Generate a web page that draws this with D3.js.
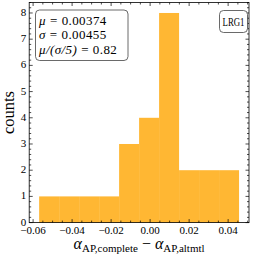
<!DOCTYPE html>
<html>
<head>
<meta charset="utf-8">
<script src="https://cdn.jsdelivr.net/npm/d3@7"></script>
<style>
  body { margin: 0; background: #fff; }
  text { font-family: "Liberation Serif", "DejaVu Serif", serif; fill: #000; }
</style>
</head>
<body>
<svg id="chart" width="253" height="256"></svg>
<script>
// histogram data
const binEdges = [-0.0569, -0.04665, -0.0364, -0.02615, -0.0159, -0.00565, 0.0046, 0.01485, 0.0251, 0.03535, 0.0456];
const binCounts = [1, 1, 1, 1, 3, 4, 8, 2, 2, 2];
const xTicks = [-0.06, -0.04, -0.02, 0.00, 0.02, 0.04];
const yTicks = [0, 1, 2, 3, 4, 5, 6, 7, 8];
const statLines = [["μ", "0.00374"], ["σ", "0.00455"], ["μ/(σ/5)", "0.82"]];
const tagLabel = "LRG1";

const svg = d3.select("#chart");
// plot box (px)
const pLeft = 29.2, pRight = 249, pTop = 2.5, pBottom = 222.6;

const x = d3.scaleLinear().domain([-0.0620, 0.0507]).range([pLeft, pRight]);
const y = d3.scaleLinear().domain([0, 8.4]).range([pBottom, pTop]);

// bars
const bins = binCounts.map((c, i) => ({x0: binEdges[i], x1: binEdges[i + 1], c: c}));
svg.append("g").selectAll("rect")
  .data(bins)
  .enter()
  .append("rect")
  .attr("x", d => x(d.x0))
  .attr("y", d => y(d.c))
  .attr("width", d => x(d.x1) - x(d.x0))
  .attr("height", d => y(0) - y(d.c))
  .attr("fill", "#ffa500")
  .attr("fill-opacity", 0.8);

// ticks, inward on all four sides
function tickLines(vals, len, axisName) {
  const g = svg.append("g").attr("stroke", "#000").attr("stroke-width", 0.7);
  vals.forEach(v => {
    if (axisName === "x") {
      const px = x(v);
      g.append("line").attr("x1", px).attr("x2", px).attr("y1", pBottom).attr("y2", pBottom - len);
      g.append("line").attr("x1", px).attr("x2", px).attr("y1", pTop).attr("y2", pTop + len);
    } else {
      const py = y(v);
      g.append("line").attr("x1", pLeft).attr("x2", pLeft + len).attr("y1", py).attr("y2", py);
      g.append("line").attr("x1", pRight).attr("x2", pRight - len).attr("y1", py).attr("y2", py);
    }
  });
}
const xMinor = d3.range(-0.06, 0.0501, 0.005).filter(v => !xTicks.some(t => Math.abs(t - v) < 1e-9));
const yMinor = d3.range(0, 8.41, 0.2).filter(v => Math.abs(v - Math.round(v)) > 1e-6);
tickLines(xTicks, 3.5, "x");
tickLines(xMinor, 2, "x");
tickLines(yTicks, 3.5, "y");
tickLines(yMinor, 2, "y");

// frame
svg.append("rect")
  .attr("x", pLeft).attr("y", pTop)
  .attr("width", pRight - pLeft).attr("height", pBottom - pTop)
  .attr("fill", "none").attr("stroke", "#000").attr("stroke-width", 0.8);

// tick labels
svg.append("g").selectAll("text")
  .data(xTicks)
  .enter()
  .append("text")
  .attr("x", d => x(d))
  .attr("y", pBottom + 11.8)
  .attr("text-anchor", "middle")
  .attr("font-size", 11)
  .text(d => d3.format(".2f")(d).replace("-", "−"));

svg.append("g").selectAll("text")
  .data(yTicks)
  .enter()
  .append("text")
  .attr("x", pLeft - 3)
  .attr("y", d => y(d) + 3)
  .attr("text-anchor", "end")
  .attr("font-size", 11)
  .text(d => d);

// axis labels
svg.append("text")
  .attr("transform", "translate(14," + ((pTop + pBottom) / 2) + ") rotate(-90)")
  .attr("text-anchor", "middle")
  .attr("font-size", 16.5)
  .text("counts");

const xl = svg.append("text")
  .attr("x", (pLeft + pRight) / 2)
  .attr("y", 249)
  .attr("text-anchor", "middle")
  .attr("font-size", 16);
xl.append("tspan").attr("font-style", "italic").text("α");
xl.append("tspan").attr("font-size", 11).attr("dy", 3).text("AP,complete");
xl.append("tspan").attr("dy", -3).text(" − ");
xl.append("tspan").attr("font-style", "italic").text("α");
xl.append("tspan").attr("font-size", 11).attr("dy", 3).text("AP,altmtl");

// stats box
svg.append("rect")
  .attr("x", 35.5).attr("y", 10)
  .attr("width", 92.5).attr("height", 50.5)
  .attr("rx", 4)
  .attr("fill", "#fff").attr("stroke", "#444").attr("stroke-width", 0.8);
statLines.forEach((ln, i) => {
  const t = svg.append("text")
    .attr("x", 39)
    .attr("y", 24.5 + i * 14.5)
    .attr("font-size", 13)
    .attr("letter-spacing", 0.4);
  t.append("tspan").attr("font-style", "italic").text(ln[0]);
  t.append("tspan").attr("dx", 4).text("=");
  t.append("tspan").attr("dx", 4).text(ln[1]);
});

// sample tag
svg.append("rect")
  .attr("x", 219.5).attr("y", 10.5)
  .attr("width", 28).attr("height", 22)
  .attr("rx", 4)
  .attr("fill", "#fff").attr("stroke", "#444").attr("stroke-width", 0.8);
svg.append("text")
  .attr("x", 233.5).attr("y", 25.5)
  .attr("text-anchor", "middle")
  .attr("font-size", 11.5)
  .attr("textLength", 22)
  .attr("lengthAdjust", "spacingAndGlyphs")
  .text(tagLabel);
</script>
</body>
</html>
